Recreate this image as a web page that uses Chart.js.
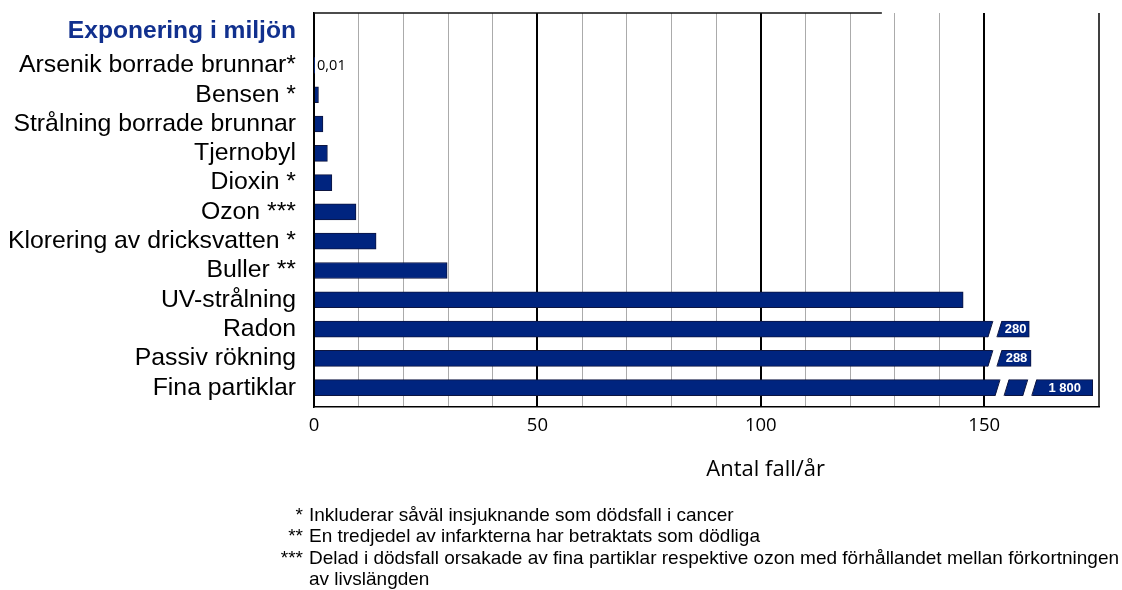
<!DOCTYPE html>
<html><head><meta charset="utf-8">
<script src="https://cdn.jsdelivr.net/npm/chart.js@4.4.1/dist/chart.umd.min.js"></script>
<style>
html,body{margin:0;padding:0;background:#fff;}
#wrap{position:relative;width:1122px;height:590px;overflow:hidden;}
#c{position:absolute;left:0;top:0;}
.fn{position:absolute;left:0;width:1122px;height:21.3px;font-family:"Liberation Sans",Arial,sans-serif;font-size:19px;line-height:21.3px;color:#000;white-space:nowrap;}
.fn .m{position:absolute;left:0;width:303px;text-align:right;}
.fn .t{position:absolute;left:309px;}
</style></head>
<body>
<div id="wrap"><canvas id="c" width="1122" height="590"></canvas></div>
<script>
// ---- data ----
const groupTitle = 'Exponering i miljön';
const categories = ['Arsenik borrade brunnar*','Bensen *','Strålning borrade brunnar','Tjernobyl','Dioxin *','Ozon ***','Klorering av dricksvatten *','Buller **','UV-strålning','Radon','Passiv rökning','Fina partiklar'];
const actualValues = [0.01, 1, 2, 3, 4, 9.4, 13.9, 29.8, 145.3, 280, 288, 1800];
// bar lengths as drawn on the broken axis (values beyond the break are cut)
const drawnLengths = [0.01, 1, 2, 3, 4, 9.4, 13.9, 29.8, 145.3, 160.1, 160.5, 174.3];
const valueLabels = ['0,01','','','','','','','','','280','288','1 800'];
const axisBreaks = [[],[],[],[],[],[],[],[],[],[152.4],[152.4],[154.0,160.2]];
const xTickLabels = [0, 50, 100, 150];
const xTitle = 'Antal fall/år';
const footnotes = [
  ['*','Inkluderar såväl insjuknande som dödsfall i cancer'],
  ['**','En tredjedel av infarkterna har betraktats som dödliga'],
  ['***','Delad i dödsfall orsakade av fina partiklar respektive ozon med förhållandet mellan förkortningen'],
  ['','av livslängden']
];

// ---- footnotes ----
const wrap = document.getElementById('wrap');
footnotes.forEach((f, i) => {
  const d = document.createElement('div');
  d.className = 'fn';
  d.style.top = (504 + i * 21.3) + 'px';
  d.innerHTML = '<span class="m"></span><span class="t"></span>';
  d.querySelector('.m').textContent = f[0];
  d.querySelector('.t').textContent = f[1];
  wrap.appendChild(d);
});

const Y_MIN = -1.79, Y_MAX = 11.66;
const TITLE_POS = -1.17;
const BAR_FILL = '#00247f';
const BAR_EDGE = '#0d1540';
const GAP_HALF = 4.5, GAP_SLANT = 2.5;

const decor = {
  id: 'decor',
  afterDatasetsDraw(chart) {
    const ctx = chart.ctx, xs = chart.scales.x;
    const meta = chart.getDatasetMeta(0);
    ctx.save();
    meta.data.forEach((bar, i) => {
      const h = bar.height;
      const top = bar.y - h / 2, bot = bar.y + h / 2;
      axisBreaks[i].forEach(b => {
        const cx = xs.getPixelForValue(b);
        ctx.beginPath();
        ctx.moveTo(cx - GAP_HALF + GAP_SLANT, top - 1);
        ctx.lineTo(cx + GAP_HALF + GAP_SLANT, top - 1);
        ctx.lineTo(cx + GAP_HALF - GAP_SLANT, bot + 1);
        ctx.lineTo(cx - GAP_HALF - GAP_SLANT, bot + 1);
        ctx.closePath();
        ctx.fillStyle = '#fff';
        ctx.fill();
        ctx.strokeStyle = BAR_EDGE;
        ctx.lineWidth = 1;
        ctx.beginPath();
        ctx.moveTo(cx - GAP_HALF + GAP_SLANT, top); ctx.lineTo(cx - GAP_HALF - GAP_SLANT, bot);
        ctx.moveTo(cx + GAP_HALF + GAP_SLANT, top); ctx.lineTo(cx + GAP_HALF - GAP_SLANT, bot);
        ctx.stroke();
      });
      const lab = valueLabels[i];
      if (!lab) return;
      ctx.textBaseline = 'middle';
      if (axisBreaks[i].length) {
        const last = axisBreaks[i][axisBreaks[i].length - 1];
        const start = xs.getPixelForValue(last) + GAP_HALF + GAP_SLANT;
        ctx.font = 'bold 13px "Liberation Sans", Arial, sans-serif';
        ctx.fillStyle = '#fff';
        ctx.textAlign = 'center';
        ctx.fillText(lab, (start + bar.x) / 2, bar.y + 0.5);
      } else {
        ctx.font = '14.5px "Open Sans", sans-serif';
        ctx.fillStyle = '#000';
        ctx.textAlign = 'left';
        ctx.fillText(lab, bar.x + 3, bar.y);
      }
    });
    ctx.restore();
  },
  afterDraw(chart) {
    const ctx = chart.ctx, a = chart.chartArea, xs = chart.scales.x;
    ctx.save();
    ctx.strokeStyle = '#111';
    ctx.lineWidth = 1.5;
    ctx.beginPath();
    ctx.moveTo(a.left, a.top); ctx.lineTo(xs.getPixelForValue(127.1), a.top);
    ctx.stroke();
    ctx.strokeStyle = '#000';
    ctx.beginPath();
    ctx.moveTo(a.right, a.top); ctx.lineTo(a.right, a.bottom);
    ctx.stroke();
    ctx.font = '22px "Open Sans", sans-serif';
    ctx.fillStyle = '#000';
    ctx.textAlign = 'center';
    ctx.textBaseline = 'middle';
    ctx.fillText(xTitle, xs.getPixelForValue(101.1), 470);
    ctx.restore();
  }
};

const isBound = v => v === Y_MIN || v === Y_MAX;

new Chart(document.getElementById('c'), {
  type: 'bar',
  data: {
    datasets: [{
      data: drawnLengths.map((v, i) => ({ x: v, y: i })),
      backgroundColor: BAR_FILL,
      borderColor: BAR_EDGE,
      borderWidth: 1,
      barThickness: 16
    }]
  },
  options: {
    indexAxis: 'y',
    responsive: false,
    animation: false,
    events: [],
    layout: { padding: { top: 13, right: 23, left: 0, bottom: 0 } },
    plugins: { legend: { display: false }, tooltip: { enabled: false } },
    scales: {
      x: {
        type: 'linear',
        min: 0, max: 175.7,
        offset: false,
        afterFit: s => { s.height = 183; s.paddingLeft = 0; s.paddingRight = 0; },
        border: { display: true, color: '#000', width: 1.5 },
        grid: {
          drawTicks: false,
          offset: false,
          color: c => { const v = c.tick.value; if (v > 150.5) return 'rgba(0,0,0,0)'; return v % 50 === 0 ? '#000' : '#ababab'; },
          lineWidth: c => (c.tick.value % 50 === 0 ? 2 : 1)
        },
        ticks: {
          stepSize: 10,
          includeBounds: false,
          autoSkip: false,
          maxRotation: 0,
          padding: 8,
          color: '#000',
          font: { family: '"Open Sans", sans-serif', size: 18.5 },
          callback: v => (xTickLabels.includes(v) ? String(v) : '')
        }
      },
      y: {
        type: 'linear',
        reverse: true,
        offset: false,
        min: Y_MIN, max: Y_MAX,
        bounds: 'data',
        afterBuildTicks: s => {
          s.ticks = [{ value: Y_MIN }, { value: TITLE_POS }]
            .concat(categories.map((_, i) => ({ value: i })))
            .concat([{ value: Y_MAX }]);
        },
        afterFit: s => { s.width = 314; s.paddingTop = 0; s.paddingBottom = 0; },
        grid: { display: false, drawTicks: false, offset: false },
        border: { display: true, color: '#000', width: 1.5 },
        ticks: {
          autoSkip: false,
          padding: 18,
          callback: v => (isBound(v) ? null : (v === TITLE_POS ? groupTitle : categories[v])),
          color: c => (c.tick && c.tick.value === TITLE_POS ? '#11308e' : '#000'),
          font: c => (c.tick && c.tick.value === TITLE_POS
            ? { family: '"Liberation Sans", Arial, sans-serif', size: 24.6, weight: 'bold' }
            : { family: '"Liberation Sans", Arial, sans-serif', size: 24.8 })
        }
      }
    }
  },
  plugins: [decor]
});
</script>
</body></html>
